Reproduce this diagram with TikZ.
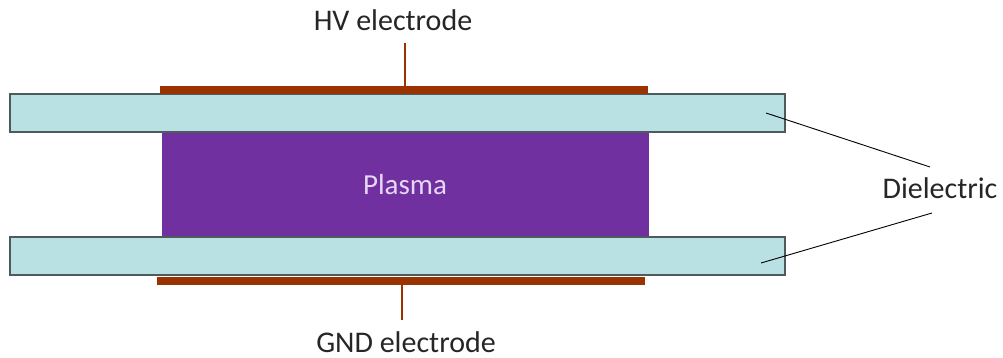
\documentclass[tikz,border=0pt]{standalone}
\usepackage{fontspec}
\setmainfont{Carlito}
\definecolor{dielfill}{RGB}{185,224,227}
\definecolor{dielborder}{RGB}{80,90,92}
\definecolor{electro}{RGB}{153,51,0}
\definecolor{plasmac}{RGB}{112,48,160}
\definecolor{plasmatext}{RGB}{230,215,245}
\begin{document}
\begin{tikzpicture}[x=1pt,y=-1pt,
  diel/.style={draw=dielborder,line width=1.5pt,fill=dielfill,minimum width=775pt,minimum height=38pt,inner sep=0pt},
  electrode/.style={fill=electro,minimum width=488pt,minimum height=8pt,inner sep=0pt},
  wire/.style={draw=electro,line width=2.6pt},
  plasmabox/.style={fill=plasmac,minimum width=487pt,minimum height=105pt,inner sep=0pt},
  lbl/.style={font=\fontsize{30}{34}\selectfont,text=black!85,inner sep=0pt},
  leader/.style={draw=black,line width=0.9pt}]
\useasboundingbox (0,0) rectangle (1003,358);
\node[plasmabox] (plasma) at (405.5,184.5) {};
\node[lbl,text=plasmatext,font=\fontsize{29}{33}\selectfont] (plasmalbl) at (405,185) {Plasma};
\node[diel] (topdiel) at (397.5,113) {};
\node[diel] (botdiel) at (397.5,256) {};
\node[electrode] (topel) at (404,90) {};
\node[electrode] (botel) at (401,281) {};
\node[lbl] (hv) at (393,20) {HV electrode};
\node[lbl] (gnd) at (406,342) {GND electrode};
\node[lbl] (diellbl) at (940,188) {Dielectric};
\coordinate (hvwire) at (405,43);
\coordinate (gndwire) at (402,320);
\draw[wire] (hvwire) -- (topel.north -| hvwire);
\draw[wire] (gndwire) -- (botel.south -| gndwire);
\coordinate (tp) at (766,113);
\coordinate (bp) at (761,263);
\coordinate (te) at (930,167);
\coordinate (be) at (932,213);
\draw[leader] (tp) -- (te);
\draw[leader] (bp) -- (be);
\end{tikzpicture}
\end{document}
